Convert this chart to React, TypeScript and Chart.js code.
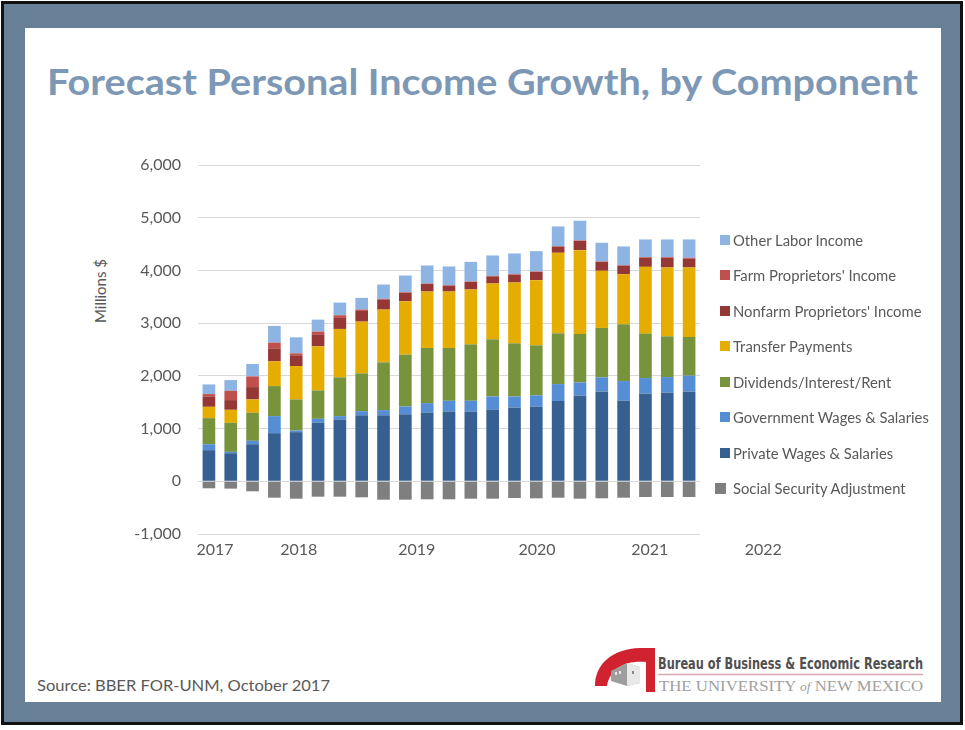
import React, { useEffect, useRef } from 'react';
import { Chart, registerables } from 'chart.js';

Chart.register(...registerables);

// ---- data ----
const periods = [
  '2017 Q1', '2017 Q2', '2017 Q3', '2017 Q4', '2018 Q1', '2018 Q2', '2018 Q3', '2018 Q4',
  '2019 Q1', '2019 Q2', '2019 Q3', '2019 Q4', '2020 Q1', '2020 Q2', '2020 Q3', '2020 Q4',
  '2021 Q1', '2021 Q2', '2021 Q3', '2021 Q4', '2022 Q1', '2022 Q2', '2022 Q3',
];
const privateWages = [590, 532, 703, 913, 932, 1115, 1172, 1255, 1255, 1274, 1305, 1324, 1324, 1362, 1401, 1420, 1521, 1629, 1705, 1534, 1667, 1686, 1705];
const governmentWages = [113, 26, 64, 323, 31, 70, 64, 76, 95, 146, 178, 203, 203, 248, 209, 209, 323, 247, 266, 367, 291, 291, 298];
const dividendsInterestRent = [495, 551, 532, 570, 590, 539, 735, 716, 906, 982, 1046, 1002, 1071, 1083, 1007, 950, 963, 919, 938, 1078, 843, 773, 735];
const transferPayments = [215, 247, 254, 469, 633, 836, 919, 982, 1001, 1014, 1071, 1071, 1040, 1059, 1154, 1236, 1528, 1590, 1084, 950, 1267, 1306, 1318];
const nonfarmProprietors = [190, 184, 234, 247, 203, 228, 209, 203, 193, 161, 142, 110, 142, 135, 148, 155, 116, 174, 167, 161, 170, 182, 170];
const farmProprietors = [51, 177, 203, 108, 38, 51, 51, 25, 10, 10, 10, 10, 10, 10, 10, 10, 10, 10, 10, 10, 14, 14, 14];
const otherLabor = [184, 203, 234, 317, 304, 228, 240, 222, 273, 317, 342, 355, 373, 387, 393, 386, 374, 374, 355, 355, 336, 336, 348];
const socialSecurityAdj = [-133, -139, -190, -311, -330, -292, -292, -304, -349, -349, -342, -342, -330, -330, -317, -323, -311, -330, -323, -311, -298, -298, -298];

const yearLabels = ['2017', '2018', '2019', '2020', '2021', '2022'];
// where each year label sits on the period axis (in period units)
const yearTickAt = [0.28, 4.12, 9.52, 15.03, 20.2, 25.4];

const yMin = -1000;
const yMax = 6000;
const yStep = 1000;

const series = [
  { label: 'Private Wages & Salaries', data: privateWages, color: '#376092' },
  { label: 'Government Wages & Salaries', data: governmentWages, color: '#558ed5' },
  { label: 'Dividends/Interest/Rent', data: dividendsInterestRent, color: '#77933c' },
  { label: 'Transfer Payments', data: transferPayments, color: '#e5ad00' },
  { label: "Nonfarm Proprietors' Income", data: nonfarmProprietors, color: '#953735' },
  { label: "Farm Proprietors' Income", data: farmProprietors, color: '#c0504d' },
  { label: 'Other Labor Income', data: otherLabor, color: '#8eb4e3' },
  { label: 'Social Security Adjustment', data: socialSecurityAdj, color: '#7f7f7f' },
];

const legendOrder = [6, 5, 4, 3, 2, 1, 0, 7];

const GREY = '#595959';
const FONT = 'Lato, "Open Sans", sans-serif';

const yearLabelPlugin = {
  id: 'yearLabels',
  afterDraw(chart: any) {
    const xs = chart.scales.x;
    const ctx = chart.ctx;
    const y = chart.chartArea.bottom + 16;
    ctx.save();
    ctx.fillStyle = GREY;
    ctx.font = `16px ${FONT}`;
    ctx.textAlign = 'center';
    ctx.textBaseline = 'middle';
    yearLabels.forEach((lab, i) => {
      ctx.fillText(lab, xs.getPixelForValue(yearTickAt[i]), y);
    });
    ctx.restore();
  },
};

function ChartCanvas() {
  const ref = useRef<HTMLCanvasElement | null>(null);
  useEffect(() => {
    if (!ref.current) return;
    const chart = new Chart(ref.current, {
      type: 'bar',
      data: {
        labels: periods,
        datasets: series.map((s) => ({
          label: s.label,
          data: s.data,
          backgroundColor: s.color,
          borderWidth: 0,
          xAxisID: 'x',
          yAxisID: 'y',
          stack: 'income',
          categoryPercentage: 1,
          barPercentage: 0.58,
        })),
      },
      options: {
        responsive: false,
        animation: false,
        devicePixelRatio: 1,
        layout: { padding: { left: 0, right: 100, top: 0, bottom: 36 } },
        plugins: {
          legend: { display: false },
          tooltip: { enabled: false },
          title: { display: false },
        },
        scales: {
          x: {
            type: 'category',
            stacked: true,
            display: false,
            offset: true,
          },
          y: {
            type: 'linear',
            stacked: true,
            min: yMin,
            max: yMax,
            afterFit: (s: any) => {
              s.width = 118;
            },
            grid: { color: '#d9d9d9', lineWidth: 1, drawTicks: false },
            border: { display: false },
            ticks: {
              stepSize: yStep,
              padding: 17,
              color: GREY,
              font: { family: FONT, size: 16, lineHeight: 1.25 },
              callback: (v: any) => Number(v).toLocaleString('en-US'),
            },
          },
        },
      } as any,
      plugins: [yearLabelPlugin],
    });
    return () => chart.destroy();
  }, []);
  return (
    <canvas
      ref={ref}
      width={720}
      height={432}
      style={{ position: 'absolute', left: 80, top: 138, width: 720, height: 432 }}
    />
  );
}

export default function App() {
  return (
    <div
      style={{
        position: 'absolute',
        left: 0,
        top: 0,
        width: 965,
        height: 730,
        background: '#ffffff',
        overflow: 'hidden',
        fontFamily: FONT,
      }}
    >
      {/* frame */}
      <div
        style={{
          position: 'absolute',
          left: 1,
          top: 1,
          width: 962,
          height: 724,
          boxSizing: 'border-box',
          border: '3px solid #111',
          background: '#687f98',
        }}
      />
      <div
        style={{
          position: 'absolute',
          left: 25,
          top: 28,
          width: 916,
          height: 674,
          background: '#ffffff',
        }}
      />
      <svg
        width={965}
        height={730}
        style={{ position: 'absolute', left: 0, top: 0 }}
      >
        <text
          x={47}
          y={95}
          textLength={871}
          lengthAdjust="spacingAndGlyphs"
          fill="#7d98b5"
          style={{ fontFamily: FONT, fontWeight: 700, fontSize: 36 }}
        >
          Forecast Personal Income Growth, by Component
        </text>
        <text
          x={37}
          y={691}
          textLength={293}
          lengthAdjust="spacingAndGlyphs"
          fill={GREY}
          style={{ fontFamily: FONT, fontSize: 15 }}
        >
          Source: BBER FOR-UNM, October 2017
        </text>
        {/* logo */}
        <path
          d="M 595 686 C 595 664 612 649 640 648 L 655 648 L 655 692 L 646 692 L 646 662 C 626 660 610 668 607 686 Z"
          fill="#d0232f"
        />
        <polygon points="611,671 627,663 640,667 640,683 627,686 611,681" fill="#9e9e9e" />
        <polygon points="627,663 640,667 640,683 627,686" fill="#e8e8e8" />
        <rect x={615} y={672} width={2} height={3} fill="#e8e8e8" />
        <rect x={619} y={671} width={2} height={3} fill="#e8e8e8" />
        <rect x={632} y={671} width={2} height={3} fill="#8a8a8a" />
        <text
          x={658}
          y={669}
          textLength={265}
          lengthAdjust="spacingAndGlyphs"
          fill="#505050"
          style={{ fontFamily: '"Liberation Sans Narrow", "DejaVu Sans Condensed", Lato, sans-serif', fontWeight: 700, fontSize: 15 }}
        >
          Bureau of Business &amp; Economic Research
        </text>
        <line x1={658} y1={674.5} x2={923} y2={674.5} stroke="#d9a7b0" strokeWidth={1.5} />
        <text
          x={659}
          y={691}
          textLength={264}
          lengthAdjust="spacingAndGlyphs"
          fill="#a0a0a0"
          style={{ fontFamily: '"Liberation Serif", "DejaVu Serif", serif', fontSize: 15 }}
        >
          THE UNIVERSITY <tspan style={{ fontStyle: 'italic', fontSize: 12 }}>of</tspan> NEW MEXICO
        </text>
        <text
          transform="translate(106 291) rotate(-90)"
          textAnchor="middle"
          fill={GREY}
          style={{ fontFamily: FONT, fontSize: 15 }}
        >
          Millions $
        </text>
      </svg>
      <ChartCanvas />
      {/* legend */}
      <div style={{ position: 'absolute', left: 0, top: 0 }}>
        {legendOrder.map((idx, k) => {
          const s = series[idx];
          const isSS = idx === 7;
          const cy = 239.5 + k * 35.5;
          const box = isSS ? 11 : 10;
          return (
            <React.Fragment key={s.label}>
              <div
                style={{
                  position: 'absolute',
                  left: isSS ? 715 : 720,
                  top: cy - box / 2,
                  width: box,
                  height: box,
                  background: s.color,
                }}
              />
              <div
                style={{
                  position: 'absolute',
                  left: 733,
                  top: cy - 10,
                  height: 20,
                  lineHeight: '20px',
                  fontSize: 14.8,
                  color: GREY,
                  whiteSpace: 'nowrap',
                  fontFamily: FONT,
                }}
              >
                {s.label}
              </div>
            </React.Fragment>
          );
        })}
      </div>
    </div>
  );
}
